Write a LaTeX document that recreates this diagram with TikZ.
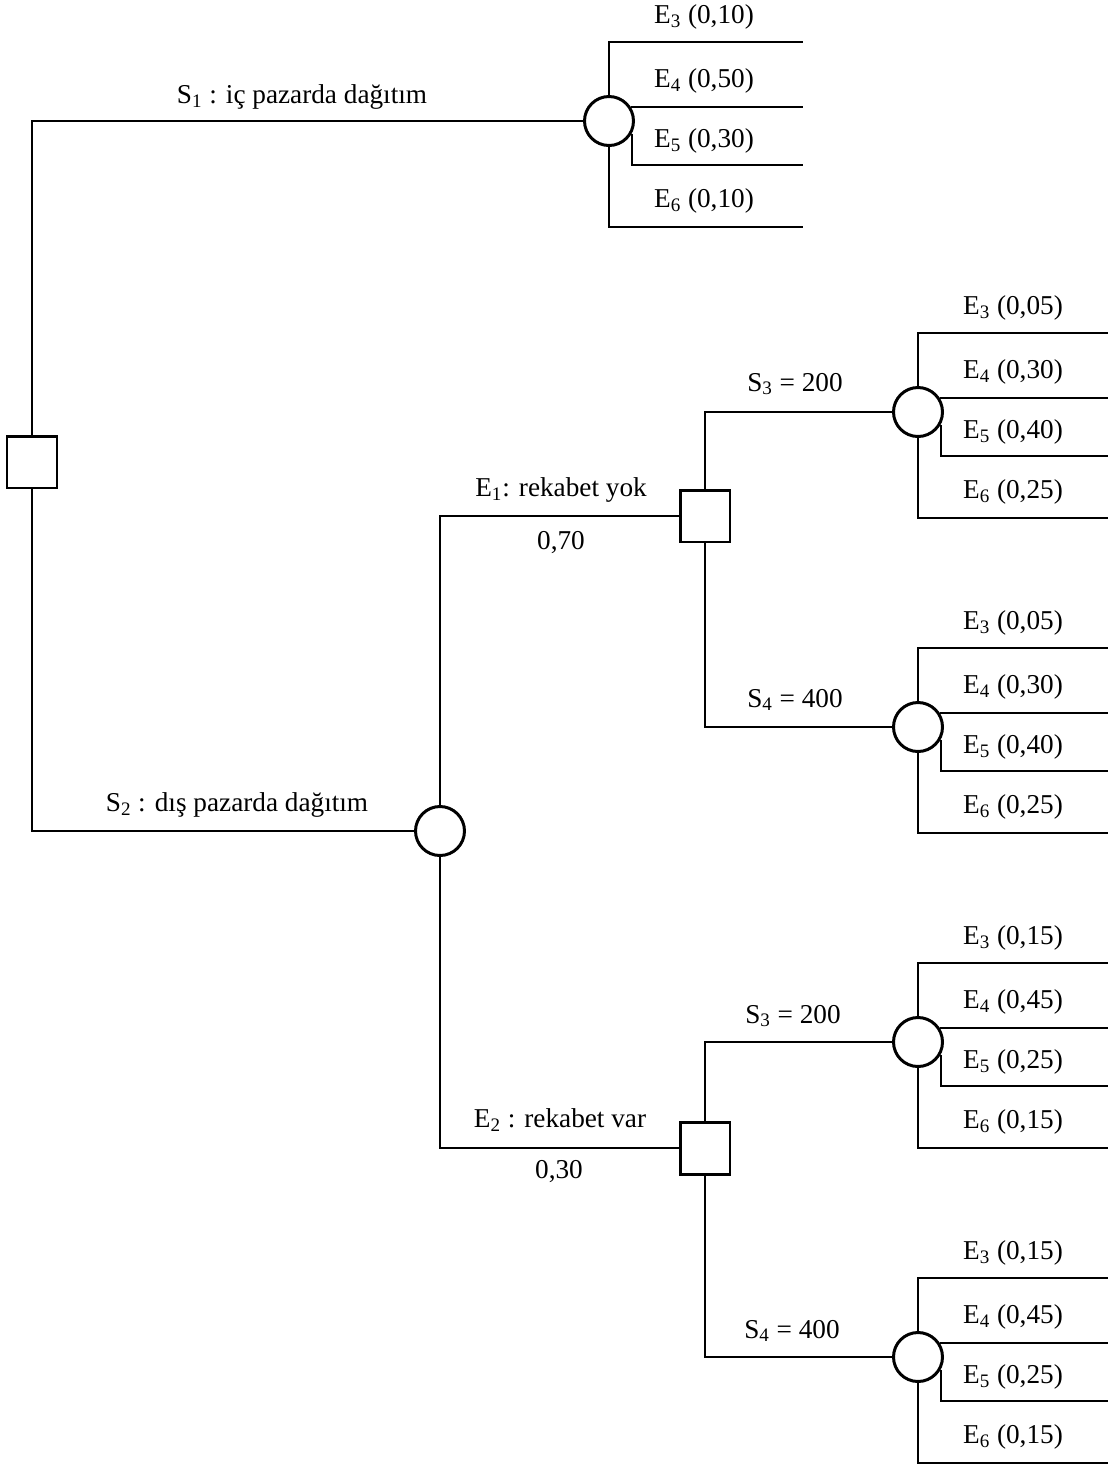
\documentclass[tikz,border=0pt]{standalone}
\usepackage{fontspec}
\setmainfont{Liberation Serif}
\usepackage{tikz}
\usetikzlibrary{calc,positioning}

\begin{document}
\begin{tikzpicture}[
  x=0.02cm, y=-0.02cm,
  font=\fontsize{15.5}{18}\selectfont,
  line width=1.35pt,
  decnode/.style={draw, line width=1.7pt, minimum width=1cm, minimum height=1.04cm, inner sep=0pt},
  chancenode/.style={draw, circle, line width=1.7pt, minimum size=0.98cm, inner sep=0pt},
  lbl/.style={inner sep=1pt},
  problbl/.style={inner sep=0pt, anchor=west}
]
\useasboundingbox (0,0) rectangle (1108,1465);

% decision and chance nodes
\node[decnode] (d0) at (32,462) {};
\node[chancenode] (c1) at (609,121) {};
\node[chancenode] (c2) at (440,831) {};
\node[decnode] (d1) at (705,516) {};
\node[decnode] (d2) at (705,1148) {};
\node[chancenode] (c3) at (918,412) {};
\node[chancenode] (c4) at (918,727) {};
\node[chancenode] (c5) at (918,1042) {};
\node[chancenode] (c6) at (918,1357) {};

% connectors
\draw (d0.north) |- (c1.west);
\draw (d0.south) |- (c2.west);
\draw (c2.north) |- (d1.west);
\draw (c2.south) |- (d2.west);
\draw (d1.north) |- (c3.west);
\draw (d1.south) |- (c4.west);
\draw (d2.north) |- (c5.west);
\draw (d2.south) |- (c6.west);

% branch labels
\node[lbl] (s1) at (302,97) {S\textsubscript{1} : iç pazarda dağıtım};
\node[lbl] (s2) at (237,805) {S\textsubscript{2} : dış pazarda dağıtım};
\node[lbl] (e1) at (561,490) {E\textsubscript{1}: rekabet yok};
\node[lbl] (p1) at (561,543) {0,70};
\node[lbl] (e2) at (560,1120) {E\textsubscript{2} : rekabet var};
\node[lbl] (p2) at (559,1172) {0,30};
\node[lbl] (s3a) at (795,384) {S\textsubscript{3} = 200};
\node[lbl] (s4a) at (795,700) {S\textsubscript{4} = 400};
\node[lbl] (s3b) at (793,1016) {S\textsubscript{3} = 200};
\node[lbl] (s4b) at (792,1331) {S\textsubscript{4} = 400};

% outcome fans
\foreach \c/\xe/\pa/\pb/\pc/\pd in {c1/803/10/50/30/10, c3/1108/05/30/40/25,
    c4/1108/05/30/40/25, c5/1108/15/45/25/15, c6/1108/15/45/25/15}{
  \coordinate (e) at (\xe,0);
  \coordinate (b1) at ($(\c)+(0,-79)$);
  \coordinate (b3) at ($(\c)+(0,44)$);
  \coordinate (b4) at ($(\c)+(0,106)$);
  \draw (\c.north) |- (b1 -| e);
  \draw (\c.33) -- (\c.33 -| e);
  \draw (\c.-29) |- (b3 -| e);
  \draw (\c.south) |- (b4 -| e);
  \node[problbl] (\c-3) at ($(\c)+(44,-104)$) {E\textsubscript{3} (0,\pa)};
  \node[problbl] (\c-4) at ($(\c)+(44,-40)$) {E\textsubscript{4} (0,\pb)};
  \node[problbl] (\c-5) at ($(\c)+(44,20)$) {E\textsubscript{5} (0,\pc)};
  \node[problbl] (\c-6) at ($(\c)+(44,80)$) {E\textsubscript{6} (0,\pd)};
}
\end{tikzpicture}
\end{document}
